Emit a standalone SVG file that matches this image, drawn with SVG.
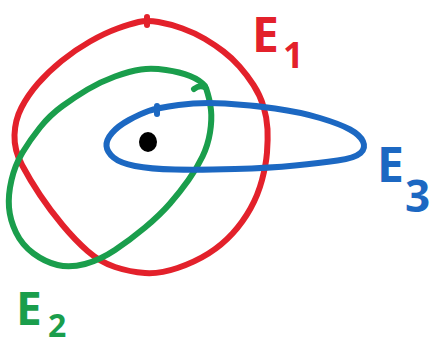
<svg xmlns="http://www.w3.org/2000/svg" width="438" height="346" viewBox="0 0 438 346">
<style>
.c{fill:none;stroke-width:6;stroke-linejoin:round;stroke-linecap:round}
.r{stroke:#e3212b}.g{stroke:#1a9e4c}.b{stroke:#1c68c2}
.t{font-family:"Open Sans","DejaVu Sans",sans-serif;font-weight:bold}
.tr{fill:#e3212b}.tg{fill:#1a9e4c}.tb{fill:#1c68c2}
</style>
<rect width="438" height="346" fill="#ffffff"/>
<g id="E1">
<path class="c r" d="M158.5,22 Q170,24 182.5,28.5 Q195,33 205,39 Q215,45 223.5,51.5 Q232,58 239.5,66.5 Q247,75 253.5,85 Q260,95 263.5,106.5 Q267,118 267.5,129 Q268,140 267,152.5 Q266,165 262,180 Q258,195 250.5,208.5 Q243,222 232.5,233.5 Q222,245 208.5,253.5 Q195,262 177.5,268 Q160,274 145,273 Q130,272 115,267 Q100,262 87.5,251 Q75,240 62.5,225 Q50,210 40,195 Q30,180 22,165 Q14,150 14.5,135 Q15,120 21.5,107.5 Q28,95 38,83.5 Q48,72 61.5,61 Q75,50 90,41.5 Q105,33 117.5,28.5 Q130,24 138.5,22 Q147,20 158.5,22 Z"/>
<line class="c r" x1="147" y1="17" x2="147" y2="25"/>
<text class="t tr" x="252" y="52" font-size="48">E</text>
<text class="t tr" x="283" y="68" font-size="36">1</text>
</g>
<g id="E2">
<path class="c g" d="M194,89 Q200,84 206,88 Q210,100 211,110 Q212,120 210,132.5 Q208,145 202.5,156.5 Q197,168 188.5,180 Q180,192 170,203.5 Q160,215 145,227.5 Q130,240 115,250 Q100,260 85,264 Q70,268 57.5,265 Q45,262 33.5,253.5 Q22,245 16,232.5 Q10,220 9,207.5 Q8,195 11.5,180 Q15,165 22.5,152.5 Q30,140 40,127.5 Q50,115 62.5,106 Q75,97 87.5,89.5 Q100,82 115,76.5 Q130,71 141,69.5 Q152,68 166,70 Q180,72 190,76 Q200,80 205,86"/>
<text class="t tg" x="16" y="325" font-size="46">E</text>
<text class="t tg" x="48" y="337" font-size="32">2</text>
</g>
<g id="E3">
<path class="c b" d="M178.5,105 Q200,102 225,103.5 Q250,105 275,108.5 Q300,112 320,118 Q340,124 350,129.5 Q360,135 363,141.5 Q366,148 360.5,153 Q355,158 337.5,160.5 Q320,163 295,165.5 Q270,168 235,169 Q200,170 175,169.5 Q150,169 135,166 Q120,163 113.5,157.5 Q107,152 106.5,146 Q106,140 112,133 Q118,126 129,120 Q140,114 148.5,111 Q157,108 178.5,105 Z"/>
<line class="c b" x1="157" y1="106" x2="157" y2="114"/>
<text class="t tb" x="377" y="182" font-size="48">E</text>
<text class="t tb" x="405" y="212" font-size="44">3</text>
</g>
<g id="point">
<ellipse cx="148" cy="142" rx="9" ry="10" fill="#000000"/>
</g>
</svg>
